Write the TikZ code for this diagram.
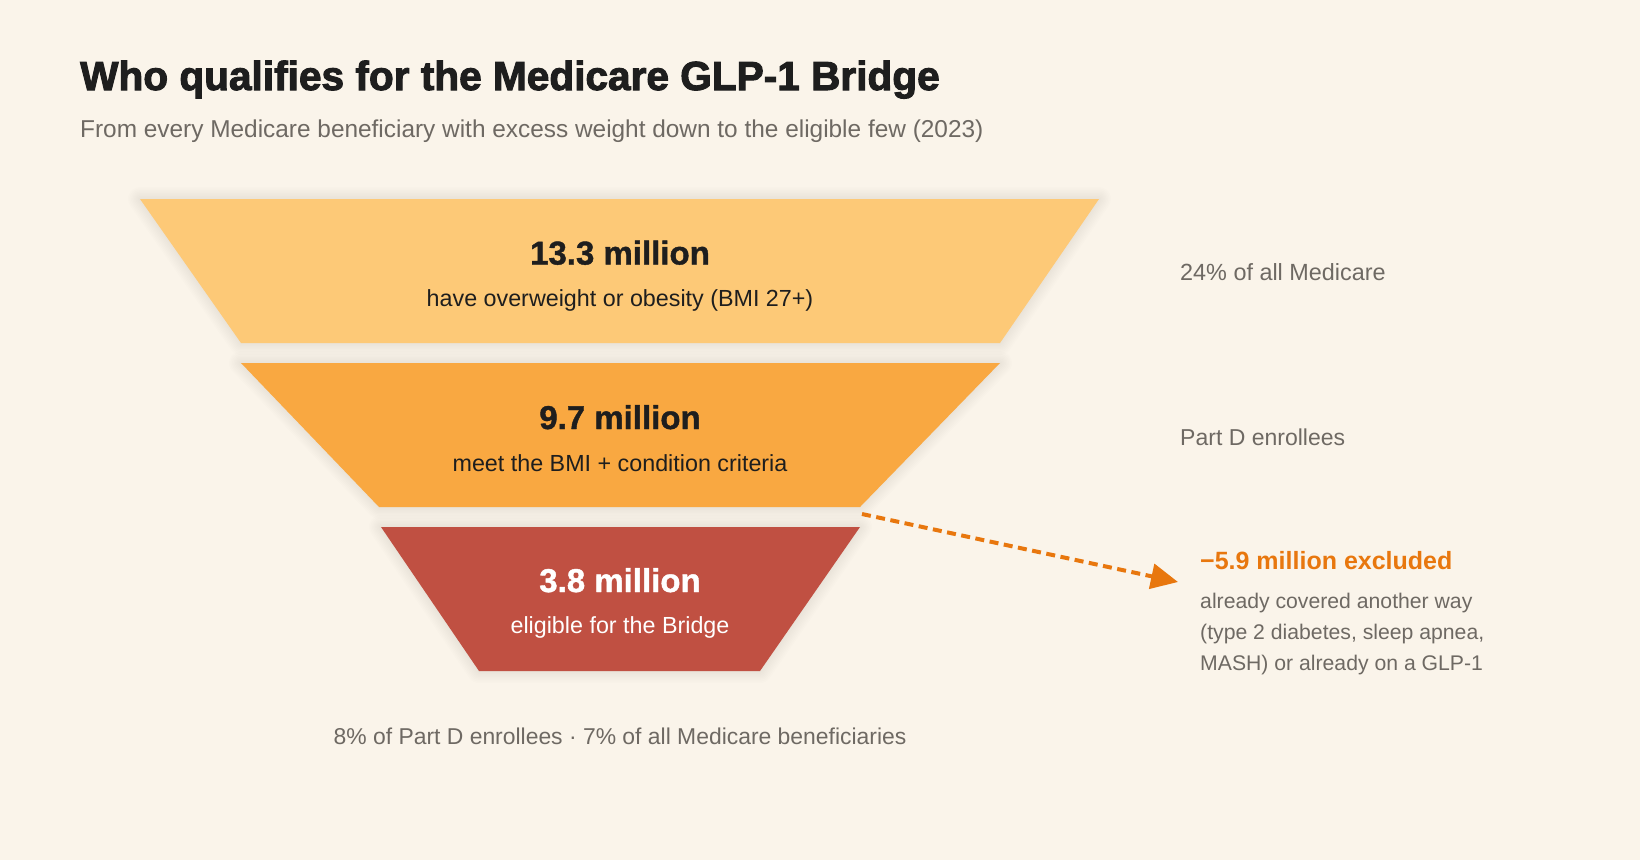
\documentclass[tikz,border=0pt]{standalone}
\usepackage{fontspec}
\setmainfont{Liberation Sans}
\newfontfamily\heavyfont{Liberation Sans Bold}[FakeBold=2.5]
\newfontfamily\numfont{Liberation Sans Bold}[FakeBold=1.2]
\newfontfamily\boldfont{Liberation Sans Bold}
\usetikzlibrary{arrows.meta}
\definecolor{bg}{HTML}{FAF4EA}
\definecolor{tierA}{HTML}{FDC977}
\definecolor{tierB}{HTML}{F9A841}
\definecolor{tierC}{HTML}{C05042}
\definecolor{accent}{HTML}{E8770E}
\definecolor{greytxt}{HTML}{6E6963}
\definecolor{darktxt}{HTML}{1E1E1E}
\tikzset{
  numlabel/.style={anchor=base, font=\numfont\fontsize{33}{38}\selectfont, text=darktxt, inner sep=0pt},
  bodylabel/.style={anchor=base, font=\fontsize{23.3}{28}\selectfont, text=darktxt, inner sep=0pt},
  sidelabel/.style={anchor=base west, font=\fontsize{23.4}{28}\selectfont, text=greytxt, inner sep=0pt},
  notelabel/.style={anchor=base west, font=\fontsize{21.2}{26}\selectfont, text=greytxt, inner sep=0pt},
  exclarrow/.style={draw=accent, line width=4pt, dash pattern=on 9pt off 5.5pt, -{Triangle[length=27pt,width=25pt]}},
}
\newcommand{\softshadow}[1]{%
  \foreach \w in {3,6,...,24}{%
    \draw[black, draw opacity=0.008, line width=\w pt, line join=round, shift={(0,-4)}] #1;
  }%
}
\begin{document}
\begin{tikzpicture}[x=1pt,y=-1pt]
\fill[bg] (0,0) rectangle (1640,860);
\useasboundingbox (0,0) rectangle (1640,860);

% title
\node[anchor=base west, inner sep=0pt, font=\heavyfont\fontsize{40.6}{46}\selectfont, text=darktxt] (title) at (80,90) {Who qualifies for the Medicare GLP-1 Bridge};
\node[anchor=base west, inner sep=0pt, font=\fontsize{24.4}{29}\selectfont, text=greytxt] (subtitle) at (80,137) {From every Medicare beneficiary with excess weight down to the eligible few (2023)};

% funnel corners
\coordinate (a1) at (140,199);  \coordinate (a2) at (1099,199);
\coordinate (a3) at (1000,343); \coordinate (a4) at (241,343);
\coordinate (b1) at (241,363);  \coordinate (b2) at (1000,363);
\coordinate (b3) at (860,507);  \coordinate (b4) at (379,507);
\coordinate (c1) at (381,527);  \coordinate (c2) at (860,527);
\coordinate (c3) at (760,671);  \coordinate (c4) at (479,671);

\softshadow{(a1)--(a2)--(a3)--(a4)--cycle}
\softshadow{(b1)--(b2)--(b3)--(b4)--cycle}
\softshadow{(c1)--(c2)--(c3)--(c4)--cycle}
\fill[tierA] (a1)--(a2)--(a3)--(a4)--cycle;
\fill[tierB] (b1)--(b2)--(b3)--(b4)--cycle;
\fill[tierC] (c1)--(c2)--(c3)--(c4)--cycle;

% tier texts
\node[numlabel] (n1) at (620,264.5) {13.3 million};
\node[bodylabel] (d1) at (620,306) {have overweight or obesity (BMI 27+)};
\node[numlabel] (n2) at (620,429) {9.7 million};
\node[bodylabel] (d2) at (620,471) {meet the BMI + condition criteria};
\node[numlabel, text=white] (n3) at (620,592) {3.8 million};
\node[bodylabel, text=white] (d3) at (620,633) {eligible for the Bridge};

% side labels
\node[sidelabel] (s1) at (1180,280) {24\% of all Medicare};
\node[sidelabel, font=\fontsize{23}{28}\selectfont] (s2) at (1180,445) {Part D enrollees};

% excluded
\node[anchor=base west, inner sep=0pt, font=\boldfont\fontsize{25}{30}\selectfont, text=accent] (ex) at (1200,569) {−5.9 million excluded};
\node[notelabel] (e1) at (1200,608) {already covered another way};
\node[notelabel] (e2) at (1200,639) {(type 2 diabetes, sleep apnea,};
\node[notelabel] (e3) at (1200,670) {MASH) or already on a GLP-1};

\coordinate (arrstart) at (862,514);
\coordinate (arrend) at (1178,582);
\draw[exclarrow] (arrstart) -- (arrend);

% bottom note
\node[anchor=base, inner sep=0pt, font=\fontsize{22.9}{27}\selectfont, text=greytxt] (foot) at (620,744) {8\% of Part D enrollees · 7\% of all Medicare beneficiaries};
\end{tikzpicture}
\end{document}
